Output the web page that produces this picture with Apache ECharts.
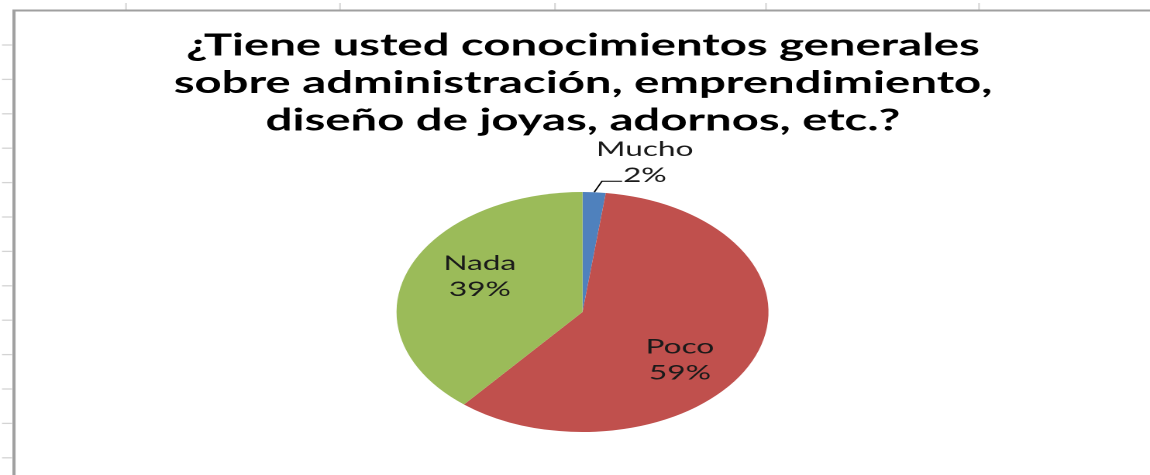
<!DOCTYPE html>
<html>
<head>
<meta charset="utf-8">
<script src="https://cdn.jsdelivr.net/npm/echarts@6/dist/echarts.min.js"></script>
<style>
  html, body { margin: 0; padding: 0; background: #ffffff; overflow: hidden; }
  #wrap { width: 1150px; height: 475px; overflow: hidden; position: relative; }
  /* the chart is laid out narrow and stretched sideways, so the pie becomes an ellipse */
  #chart { width: 742px; height: 475px; transform: scaleX(1.54987); transform-origin: 0 0; }
</style>
</head>
<body>
<div id="wrap"><div id="chart"></div></div>
<script>
// ---- data ----
const titleLines = [
  '¿Tiene usted conocimientos generales',
  'sobre administración, emprendimiento,',
  'diseño de joyas, adornos, etc.?'
];
const categories = ['Mucho', 'Poco', 'Nada'];
const shares = [2, 59, 39];
const sliceColors = ['#4F81BD', '#C0504D', '#9BBB59'];

// ---- layout ----
const STRETCH = 1150 / 742;            // horizontal stretch of the whole drawing
const sx = v => v / STRETCH;            // screen x -> chart x
const pieCenter = [sx(582.5), 312];
const pieRadius = 120;
// nudges for the data labels, in chart units
const labelNudge = [[14, -19], [5, 23], [-7, -14]];

// spreadsheet cells behind the chart
const columnLines = [126, 340, 555, 766, 979];
const rowLines = [45, 79.4, 113.8, 148.2, 182.6, 217, 251.4, 285.8, 320.2, 354.6, 389, 423.4, 457.8];

const graphics = [];
columnLines.forEach(x => graphics.push({
  type: 'line', silent: true,
  shape: { x1: sx(x), y1: 3, x2: sx(x), y2: 10 },
  style: { stroke: '#d4d4d4', lineWidth: 1 }
}));
rowLines.forEach(y => graphics.push({
  type: 'line', silent: true,
  shape: { x1: sx(2), y1: y, x2: sx(12), y2: y },
  style: { stroke: '#d4d4d4', lineWidth: 1.3 }
}));
// chart frame (left and top edges)
graphics.push({
  type: 'polyline', silent: true,
  shape: { points: [[sx(14), 475], [sx(14), 10.5], [sx(1150), 10.5]] },
  style: { stroke: '#a0a0a0', lineWidth: 2, fill: null }
});

const chart = echarts.init(document.getElementById('chart'), null, { renderer: 'canvas', devicePixelRatio: 2 });

chart.setOption({
  backgroundColor: '#ffffff',
  animation: false,
  graphic: graphics,
  title: {
    text: titleLines.join('\n'),
    left: sx(583),
    top: 27,
    textAlign: 'center',
    textVerticalAlign: 'top',
    padding: 0,
    textStyle: {
      fontFamily: 'Lato',
      fontWeight: 'bold',
      fontSize: 30.5,
      lineHeight: 37.5,
      color: '#000000'
    }
  },
  series: [{
    type: 'pie',
    center: pieCenter,
    radius: [0, pieRadius],
    startAngle: 90,
    clockwise: true,
    percentPrecision: 0,
    silent: true,
    emphasis: { disabled: true },
    itemStyle: { borderWidth: 0 },
    label: {
      show: true,
      position: 'inside',
      formatter: '{b}\n{d}%',
      fontFamily: 'Lato',
      fontSize: 20.4,
      lineHeight: 26,
      color: '#1a1a1a',
      align: 'center'
    },
    labelLine: { show: false },
    labelLayout: function (p) {
      const n = labelNudge[p.dataIndex];
      const out = { dx: n[0], dy: n[1], align: 'center' };
      const pts = p.labelLinePoints;
      if (pts && pts.length >= 3) {
        // leader leans right before running flat to the label
        const elbow = [pts[0][0] + 5, pts[1][1]];
        out.labelLinePoints = [pts[0], elbow, [elbow[0] + 13, elbow[1]]];
      }
      return out;
    },
    data: categories.map((name, i) => ({
      name: name,
      value: shares[i],
      itemStyle: { color: sliceColors[i] },
      label: i === 0 ? { position: 'outside', distanceToLabelLine: 5 } : undefined,
      labelLine: i === 0 ? { show: true, length: 11, length2: 13, lineStyle: { color: '#000000', width: 1 } } : undefined
    }))
  }]
});
</script>
</body>
</html>
